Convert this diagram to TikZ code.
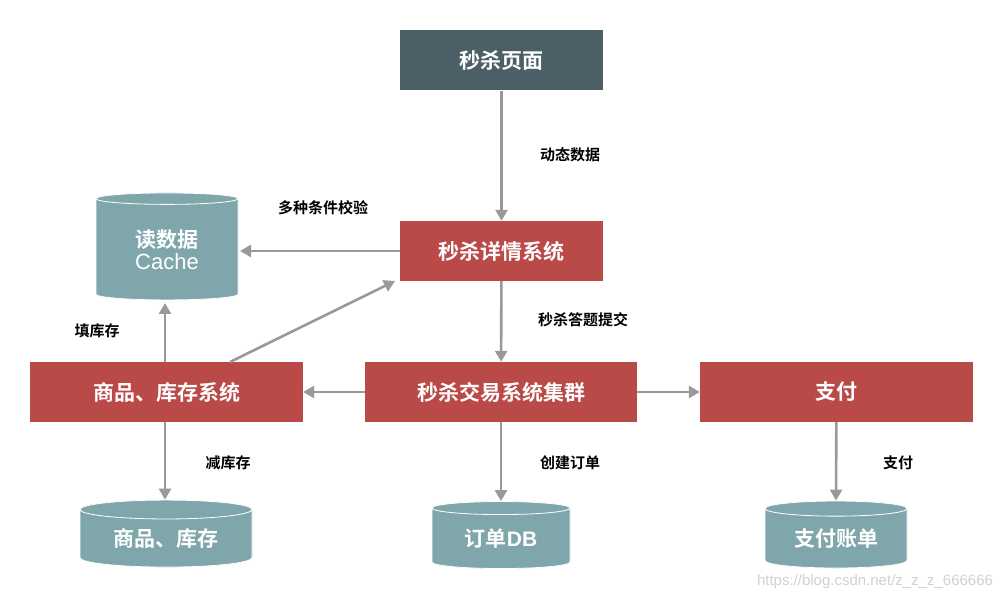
\documentclass[tikz,border=0pt]{standalone}
\usepackage{fontspec}
\usetikzlibrary{shapes.geometric,arrows.meta}
\newfontfamily\cjk{Noto Sans CJK SC Bold}
\newfontfamily\cjkr{Noto Sans CJK SC}
\definecolor{redbox}{HTML}{B94A48}
\definecolor{darkbox}{HTML}{4D5F66}
\definecolor{teal}{HTML}{7FA7AB}
\definecolor{tealtop}{HTML}{8AAFB3}
\definecolor{arr}{HTML}{999999}
\begin{document}
\begin{tikzpicture}[x=1pt,y=-1pt,
 box/.style={fill=redbox,text=white,font=\cjk\fontsize{21}{24}\selectfont,minimum height=60pt,inner sep=0pt},
 db/.style={cylinder,shape border rotate=90,aspect=0.18,fill=teal,draw=white,line width=0.8pt,cylinder uses custom fill,cylinder body fill=teal,cylinder end fill=tealtop,text=white,font=\cjk\fontsize{21}{25}\selectfont,inner sep=0pt,align=center},
 lab/.style={font=\cjk\fontsize{15}{18}\selectfont},
 ar/.style={draw=arr,line width=2.6pt,-{Triangle[length=11pt,width=12pt]}}]
\useasboundingbox (0,0) rectangle (1007,601);
\node[box,fill=darkbox,minimum width=203pt] (page) at (501.5,60.5) {秒杀页面};
\node[box,minimum width=203pt] (detail) at (501.5,251) {秒杀详情系统};
\node[box,minimum width=273pt] (goods) at (166.5,392) {商品、库存系统};
\node[box,minimum width=272pt] (trade) at (501,392) {秒杀交易系统集群};
\node[box,minimum width=273pt] (pay) at (836.5,392) {支付};
\node[db,minimum width=142pt,minimum height=107pt] (cache) at (167,249.5) {读数据\\[-3pt]{\sffamily\fontspec{Liberation Sans}\fontsize{22}{25}\selectfont Cache}};
\node[db,minimum width=172pt,minimum height=67pt] (stock) at (166,538.5) {商品、库存};
\node[db,minimum width=138pt,minimum height=67pt] (order) at (501,538.5) {订单{\fontspec{Liberation Sans}\bfseries DB}};
\node[db,minimum width=142pt,minimum height=67pt] (bill) at (836,538.5) {支付账单};
\coordinate (c1) at (165,303);
\coordinate (g1) at (165,362);
\coordinate (g2) at (230,362);
\coordinate (d1) at (395,281);
\draw[ar] (page) -- (detail);
\draw[ar] (detail.west) -- (240,251) coordinate (cw);
\draw[ar] (detail) -- (trade);
\draw[ar] (trade.west) -- (goods.east);
\draw[ar] (trade.east) -- (pay.west);
\draw[ar] (g1) -- (c1);
\draw[ar] (g2) -- (d1);
\draw[ar] (goods.south -| g1) -- (stock.north -| g1);
\draw[ar] (trade) -- (order.north);
\draw[ar] (pay) -- (bill.north);
\node[lab] at (570,155) {动态数据};
\node[lab] at (323,208) {多种条件校验};
\node[lab] at (583,320) {秒杀答题提交};
\node[lab] at (97,331) {填库存};
\node[lab] at (228,463) {减库存};
\node[lab] at (570,463) {创建订单};
\node[lab] at (898,463) {支付};
\node[text=black!18,font=\fontspec{Liberation Sans}\fontsize{15}{18}\selectfont] at (875,582) {https://blog.csdn.net/z\_z\_z\_666666};
\end{tikzpicture}
\end{document}
